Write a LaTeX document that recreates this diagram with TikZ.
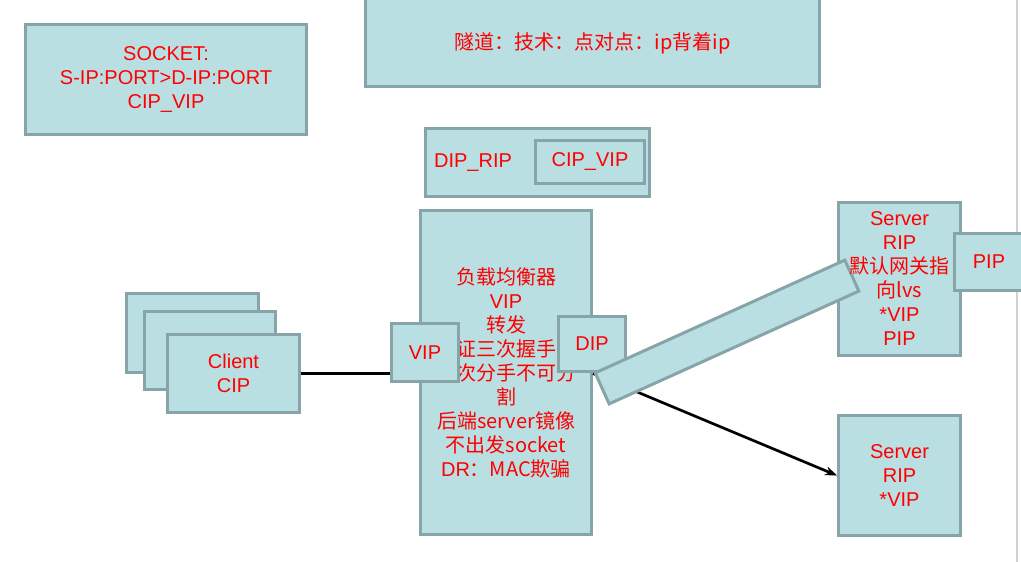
\documentclass[tikz,border=0pt]{standalone}
\usepackage{fontspec}
\setmainfont{Liberation Sans}
\newfontfamily\cjk{Noto Sans CJK SC}
\usetikzlibrary{arrows.meta,calc}
\definecolor{boxfill}{HTML}{B9DFE3}
\definecolor{boxline}{HTML}{87A5A8}
\definecolor{labelred}{HTML}{FF0000}
\tikzset{
  box/.style={draw=boxline, fill=boxfill, line width=3pt, inner sep=0pt,
              text=labelred, align=center,
              font=\fontsize{20}{24}\selectfont},
  txt/.style={inner sep=0pt, text=labelred, align=center,
              font=\fontsize{20}{24}\selectfont},
  wire/.style={line width=2.6pt, black},
  wireshadow/.style={line width=3pt, black!25, opacity=0.6},
}
\begin{document}
\begin{tikzpicture}[x=1pt, y=-1pt]
\useasboundingbox (0,0) rectangle (1021,562);
\fill[white] (0,0) rectangle (1021,562);

% page edge on the right
\draw[black!18, line width=1.5pt] (1017,0) -- (1017,562);

% socket note
\node[box, minimum width=281, minimum height=110] (sock) at (166,79.5)
  {SOCKET:\\S-IP:PORT>D-IP:PORT\\CIP\_VIP};

% tunnel note (runs off the top edge)
\node[box, minimum width=454, minimum height=92] (tun) at (592.5,40) {};
\node[txt] (tuntext) at (592.5,43)
  {\cjk{隧道：技术：点对点：}ip\cjk{背着}ip};

% packet header: outer DIP_RIP, inner CIP_VIP
\node[box, minimum width=224, minimum height=68] (dr) at (537.5,162.5) {};
\node[txt] (drtext) at (473,163) {DIP\_RIP};
\node[box, minimum width=109, minimum height=43] (cv) at (590,162) {CIP\_VIP};

% load balancer; the VIP and DIP ports sit over parts of its text
\node[box, minimum width=171, minimum height=324] (lb) at (506,372.5)
  {\cjk{负载均衡器}\\VIP\\\cjk{转发}\\\cjk{\phantom{保}证三次握手\phantom{，}}\\
   \cjk{\phantom{四}次分手不可分}\\\cjk{割}\\
   \cjk{后端}server\cjk{镜像}\\\cjk{不出发}socket\\DR\cjk{：}MAC\cjk{欺骗}};
\node[box, minimum width=67, minimum height=58] (vip) at (425,352.5) {VIP};
\node[box, minimum width=67, minimum height=55] (dip) at (592,344) {DIP};

% stacked clients
\node[box, minimum width=132, minimum height=79] (cl3) at (192.5,333) {};
\node[box, minimum width=131, minimum height=78] (cl2) at (210,350.5) {};
\node[box, minimum width=132, minimum height=78] (cl1) at (233.5,373.5) {Client\\CIP};

% client to VIP
\coordinate (cin) at (cl1.east -| vip.west);
\draw[wireshadow, shift={(1,2)}] (cl1.east) -- (cin);
\draw[wire] (cl1.east) -- (cin);

% servers
\node[box, minimum width=122, minimum height=153] (srv1) at (899.5,279) {};
\node[box, minimum width=122, minimum height=120] (srv2) at (899.5,475.5)
  {Server\\RIP\\*VIP};

% forward from the balancer to the second server
\coordinate (fwd) at (lb.east |- cl1.east);
\draw[wireshadow, shift={(1,2)}] (fwd) -- (srv2.west);
\draw[wire, -{Stealth[length=12pt,width=9pt]}] (fwd) -- (srv2.west);

% tunnel bar from DIP towards the first server
\node[draw=boxline, fill=boxfill, line width=3pt, inner sep=0pt,
      minimum width=274, minimum height=34, rotate=24.3] (bar) at (727,332) {};

\node[txt] (srv1text) at (srv1.center)
  {Server\\RIP\\\cjk{默认网关指}\\\cjk{向}lvs\\*VIP\\PIP};
\node[box, minimum width=69, minimum height=57] (pip) at (989,262) {PIP};
\end{tikzpicture}
\end{document}
